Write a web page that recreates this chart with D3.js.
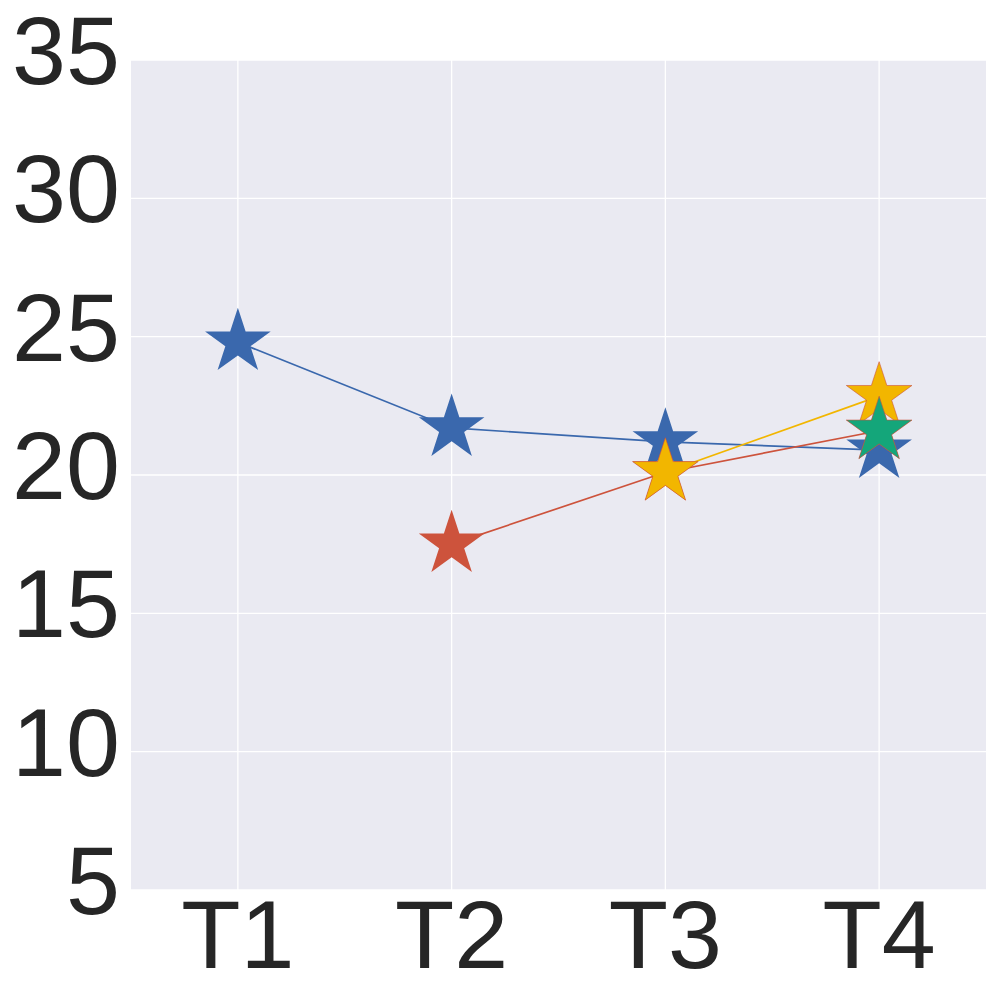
<!DOCTYPE html>
<html><head><meta charset="utf-8">
<script src="https://cdn.jsdelivr.net/npm/d3@7"></script>
<style>body{margin:0;background:#fff}svg{display:block}text{font-family:Arial,"Liberation Sans",Helvetica,sans-serif}</style>
</head><body>
<svg id="c" width="1000" height="1000"></svg>
<script>
const categories = ["T1","T2","T3","T4"];
const yTicks = [5,10,15,20,25,30,35];
const blueValues = [24.8, 21.7, 21.2, 20.9];
const redValues = [null, 17.5, 20.1, 21.6];
const yellowValues = [null, null, 20.1, 22.85];
const greenValues = [null, null, null, 21.6];
const seriesColors = ["#3a68ad", "#cd533c", "#f2b600", "#14a67a"];
const seriesList = [blueValues, redValues, yellowValues, greenValues];

const svg = d3.select("#c");
const L = 131, R = 986, T = 60, B = 890;
const x = d3.scaleLinear().domain([-0.5, 3.5]).range([L, R]);
const y = d3.scaleLinear().domain([5, 35]).range([B, T]);

svg.append("rect").attr("x", L).attr("y", T).attr("width", R - L).attr("height", B - T).attr("fill", "#eaeaf2");

const g = svg.append("g");
g.selectAll("line.hg").data(yTicks).join("line")
  .attr("x1", L).attr("x2", R).attr("y1", d => y(d)).attr("y2", d => y(d))
  .attr("stroke", "#fff").attr("stroke-width", 1.3);
g.selectAll("line.vg").data(categories).join("line")
  .attr("y1", T).attr("y2", B).attr("x1", (d, i) => x(i)).attr("x2", (d, i) => x(i))
  .attr("stroke", "#fff").attr("stroke-width", 1.3);

svg.selectAll("text.yl").data(yTicks).join("text")
  .attr("x", 120).attr("y", d => y(d) + 24).attr("text-anchor", "end")
  .attr("font-size", 97).attr("fill", "#262626").text(d => d);
svg.selectAll("text.xl").data(categories).join("text")
  .attr("x", (d, i) => x(i)).attr("y", 968).attr("text-anchor", "middle")
  .attr("font-size", 97).attr("fill", "#262626").text(d => d);

const r = 34.5;
const star = d3.symbol(d3.symbolStar, r * r / 0.89081309152928522810);
const line = d3.line().defined(d => d[1] != null).x(d => x(d[0])).y(d => y(d[1]));

seriesList.forEach((vals, si) => {
  const pts = vals.map((v, i) => [i, v]);
  svg.append("path").datum(pts).attr("d", line).attr("fill", "none")
    .attr("stroke", seriesColors[si]).attr("stroke-width", 1.7);
  svg.selectAll(null).data(pts.filter(p => p[1] != null)).join("path")
    .attr("d", star).attr("transform", p => `translate(${x(p[0])},${y(p[1])})`)
    .attr("fill", seriesColors[si])
    .attr("stroke", si >= 2 ? "#cd533c" : "none").attr("stroke-width", si >= 2 ? 0.6 : 0);
});
</script>
</body></html>
